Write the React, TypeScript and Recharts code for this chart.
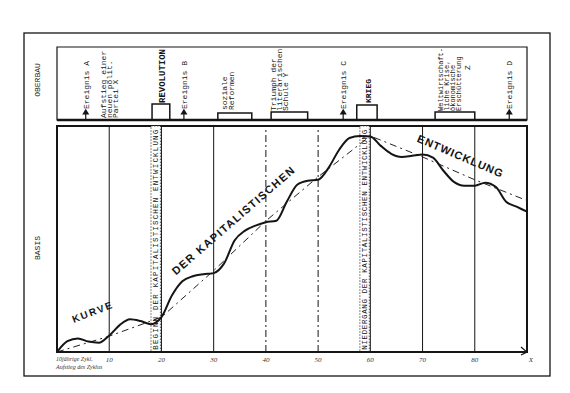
import React from 'react';
import { LineChart, Line, XAxis, YAxis, ReferenceLine, ReferenceArea, ReferenceDot } from 'recharts';

// BASIS: the curve of capitalist development and its trend line
const years = [0, 2, 4, 6, 8, 10, 12, 14, 16, 18, 20, 22, 24, 26, 28, 30, 32, 34, 36, 38, 40, 42, 44, 46, 48, 50, 52, 54, 56, 58, 60, 62, 64, 66, 68, 70, 72, 74, 76, 78, 80, 82, 84, 86, 88, 90];
const basisCurve = [0, 4.8, 6, 4.6, 4.1, 7.3, 11.9, 14.5, 13.7, 12.3, 15.4, 25, 31.3, 33.5, 34.4, 34.9, 39.2, 49.3, 53.7, 55.9, 57.4, 58.1, 66.5, 74, 75.8, 76.2, 81.5, 89.4, 94.7, 95.6, 95.4, 91.2, 87.7, 86.3, 86.8, 87.4, 86, 80.2, 75.3, 73.6, 73.6, 74.9, 73.1, 66.5, 64.3, 62.1];
const trendYears = [0, 10, 20, 30, 40, 50, 60, 70, 80, 90];
const trendValues = [0, 7, 15.4, 36, 58, 77.5, 95.6, 86.3, 76.2, 67];

const axisTicks = [10, 20, 30, 40, 50, 60, 70, 80, 90];
const axisLabels = ['10', '20', '30', '40', '50', '60', '70', '80', 'X'];
const gridYears = [10, 20, 30, 40, 50, 60, 70, 80];
const dashedGridYears = [40, 50];
const markerYears = [20, 60];
const markerTexts = ['BEGINN DER KAPITALISTISCHEN ENTWICKLUNG', 'NIEDERGANG DER KAPITALISTISCHEN ENTWICKLUNG'];

// OBERBAU: events, boxes and notes
const eventYears = [5.5, 24.3, 54.8, 86.6];
const eventNames = ['Ereignis A', 'Ereignis B', 'Ereignis C', 'Ereignis D'];
const boxStarts = [18.2, 30.8, 41, 57.4, 72.4];
const boxEnds = [21.6, 37.3, 48, 61.3, 80];
const boxHeights = [16, 7, 8, 15, 8];
const noteYears = [10, 20.1, 32.7, 42.5, 59.5, 75.1, 78.6];
const noteBases = [2, 17, 10, 9, 17, 9, 50];
const noteTexts = [
  ['Aufstieg einer', 'neuen polit.', 'Partei X'],
  ['REVOLUTION'],
  ['soziale', 'Reformen'],
  ['Triumph der', 'literarischen', 'Schule Y'],
  ['KRIEG'],
  ['Weltwirtschaft-', 'liche Krise,', 'ökonomische', 'Erschütterung'],
  ['Z'],
];

const curveData = years.map((x, i) => ({ x, y: basisCurve[i] }));
const trendData = trendYears.map((x, i) => ({ x, y: trendValues[i] }));

const INK = '#151515';
const MONO = '"Liberation Mono", "DejaVu Sans Mono", monospace';
const HAND = '"Liberation Sans", "DejaVu Sans", sans-serif';

// plot spans y 47..352; basis panel 126..352, oberbau panel 47..120
const BASIS_MAX = (305 * 100) / 226;
const OBER_DOMAIN = [-232, 73];

const VText = ({ cx, cy, lines, size = 8, gap = 6, weight = 'normal', length }: any) => (
  <g>
    {lines.map((ln: string, i: number) => {
      const x = cx + (i - (lines.length - 1) / 2) * gap + size * 0.35;
      return (
        <text
          key={i}
          transform={`translate(${x},${cy}) rotate(-90)`}
          fontSize={size}
          fontFamily={MONO}
          fontWeight={weight}
          fill={INK}
          {...(length ? { textLength: length, lengthAdjust: 'spacing' } : {})}
        >
          {ln}
        </text>
      );
    })}
  </g>
);

const Arrow = ({ cx, cy }: any) => (
  <g stroke={INK} strokeWidth={1.2} fill={INK}>
    <line x1={cx} y1={cy} x2={cx} y2={cy - 7} />
    <path d={`M${cx - 2.5},${cy - 5} L${cx},${cy - 9} L${cx + 2.5},${cy - 5} Z`} />
  </g>
);

const HandText = ({ cx, cy, text, angle, length, size = 11 }: any) => (
  <text
    transform={`translate(${cx},${cy}) rotate(${angle})`}
    textAnchor="middle"
    dominantBaseline="central"
    fontSize={size}
    fontWeight="bold"
    fontFamily={HAND}
    fill={INK}
    textLength={length}
    lengthAdjust="spacing"
  >
    {text}
  </text>
);

const AxisTick = ({ x, y, payload }: any) => {
  const i = axisTicks.indexOf(payload.value);
  const last = i === axisTicks.length - 1;
  return (
    <g>
      {last && <path d={`M${x - 6},${y - 5} L${x},${y} L${x - 6},${y + 3}`} stroke={INK} fill="none" strokeWidth={1.2} />}
      <text x={last ? x + 4 : x} y={y + 10} textAnchor="middle" fontSize={7} fontStyle="italic" fontFamily='"Liberation Serif", serif' fill="#333">
        {axisLabels[i]}
      </text>
    </g>
  );
};

export default function App() {
  return (
    <div style={{ position: 'absolute', left: 0, top: 0, width: 570, height: 393, background: '#fff' }}>
      <svg width={570} height={393} style={{ position: 'absolute', left: 0, top: 0 }}>
        <rect x={24} y={33} width={526} height={343} fill="none" stroke={INK} strokeWidth={1.3} />
        <text transform="translate(40,80) rotate(-90)" textAnchor="middle" fontSize={8} fontFamily={MONO} fill={INK}>OBERBAU</text>
        <text transform="translate(40,248) rotate(-90)" textAnchor="middle" fontSize={8} fontFamily={MONO} fill={INK}>BASIS</text>
        <text x={56} y={361} fontSize={6} fontStyle="italic" fontFamily='"Liberation Serif", serif' fill="#333">10jährige Zykl.</text>
        <text x={56} y={369} fontSize={6} fontStyle="italic" fontFamily='"Liberation Serif", serif' fill="#333">Aufstieg des Zyklus</text>
      </svg>

      <div style={{ position: 'absolute', left: 0, top: 0 }}>
        <LineChart width={570} height={393} margin={{ top: 47, right: 43, bottom: 29, left: 57 }}>
          <XAxis
            type="number"
            dataKey="x"
            domain={[0, 90]}
            ticks={axisTicks}
            interval={0}
            height={12}
            tickSize={0}
            tickMargin={0}
            axisLine={{ stroke: INK, strokeWidth: 2 }}
            tick={<AxisTick />}
          />
          <YAxis yAxisId="basis" type="number" domain={[0, BASIS_MAX]} allowDataOverflow hide />
          <YAxis yAxisId="ober" type="number" domain={OBER_DOMAIN} allowDataOverflow hide />

          {/* OBERBAU panel */}
          <ReferenceArea yAxisId="ober" x1={0} x2={90} y1={0} y2={73} fill="none" stroke={INK} strokeWidth={1.2} />
          <ReferenceLine yAxisId="ober" segment={[{ x: 0, y: 0 }, { x: 90, y: 0 }]} stroke={INK} strokeWidth={2.5} />
          {boxStarts.map((b, i) => (
            <ReferenceArea key={'b' + i} yAxisId="ober" x1={b} x2={boxEnds[i]} y1={0} y2={boxHeights[i]} fill="#fff" fillOpacity={1} stroke={INK} strokeWidth={1.5} />
          ))}
          {eventYears.map((ex, i) => (
            <ReferenceDot key={'a' + i} yAxisId="ober" x={ex} y={1} r={0} shape={(p: any) => <Arrow cx={p.cx} cy={p.cy} />} />
          ))}
          {eventYears.map((ex, i) => (
            <ReferenceDot key={'e' + i} yAxisId="ober" x={ex} y={11} r={0} shape={(p: any) => <VText cx={p.cx} cy={p.cy} lines={[eventNames[i]]} />} />
          ))}
          {noteYears.map((nx, i) => (
            <ReferenceDot
              key={'n' + i}
              yAxisId="ober"
              x={nx}
              y={noteBases[i]}
              r={0}
              shape={(p: any) => (
                <VText
                  cx={p.cx}
                  cy={p.cy}
                  lines={noteTexts[i]}
                  size={i === 5 ? 7 : i === 1 ? 9 : 8}
                  gap={i === 2 ? 7.5 : 6}
                  weight={i === 1 || i === 4 ? 'bold' : 'normal'}
                />
              )}
            />
          ))}

          {/* BASIS panel */}
          <ReferenceArea yAxisId="basis" x1={0} x2={90} y1={0} y2={100} fill="none" stroke={INK} strokeWidth={2} />
          {gridYears.map((g) => (
            <ReferenceLine
              key={'g' + g}
              yAxisId="basis"
              segment={[{ x: g, y: 0 }, { x: g, y: 100 }]}
              stroke={INK}
              strokeWidth={1}
              strokeDasharray={dashedGridYears.includes(g) ? '7 3 2 3' : undefined}
            />
          ))}
          {markerYears.map((m, i) => (
            <ReferenceArea key={'m' + i} yAxisId="basis" x1={m - 2} x2={m - 0.2} y1={0} y2={100} fill="#fff" fillOpacity={1} stroke="#333" strokeWidth={0.8} strokeDasharray="1.5 1.5" />
          ))}
          {markerYears.map((m, i) => (
            <ReferenceDot
              key={'mt' + i}
              yAxisId="basis"
              x={m - 1.1}
              y={1}
              r={0}
              shape={(p: any) => <VText cx={p.cx} cy={p.cy} lines={[markerTexts[i]]} size={7.5} length={220} />}
            />
          ))}
          <Line yAxisId="basis" data={trendData} dataKey="y" type="linear" stroke="#222" strokeWidth={1} strokeDasharray="7 4 2 4" dot={false} isAnimationActive={false} />
          <Line yAxisId="basis" data={curveData} dataKey="y" type="monotone" stroke={INK} strokeWidth={2} dot={false} isAnimationActive={false} />
          <ReferenceDot yAxisId="basis" x={6.7} y={17.6} r={0} shape={(p: any) => <HandText cx={p.cx} cy={p.cy} text="KURVE" angle={-21} length={42} size={10} />} />
          <ReferenceDot yAxisId="basis" x={33.7} y={58.1} r={0} shape={(p: any) => <HandText cx={p.cx} cy={p.cy} text="DER KAPITALISTISCHEN" angle={-41} length={158} />} />
          <ReferenceDot yAxisId="basis" x={77.2} y={86.8} r={0} shape={(p: any) => <HandText cx={p.cx} cy={p.cy} text="ENTWICKLUNG" angle={23} length={92} />} />
        </LineChart>
      </div>
    </div>
  );
}
